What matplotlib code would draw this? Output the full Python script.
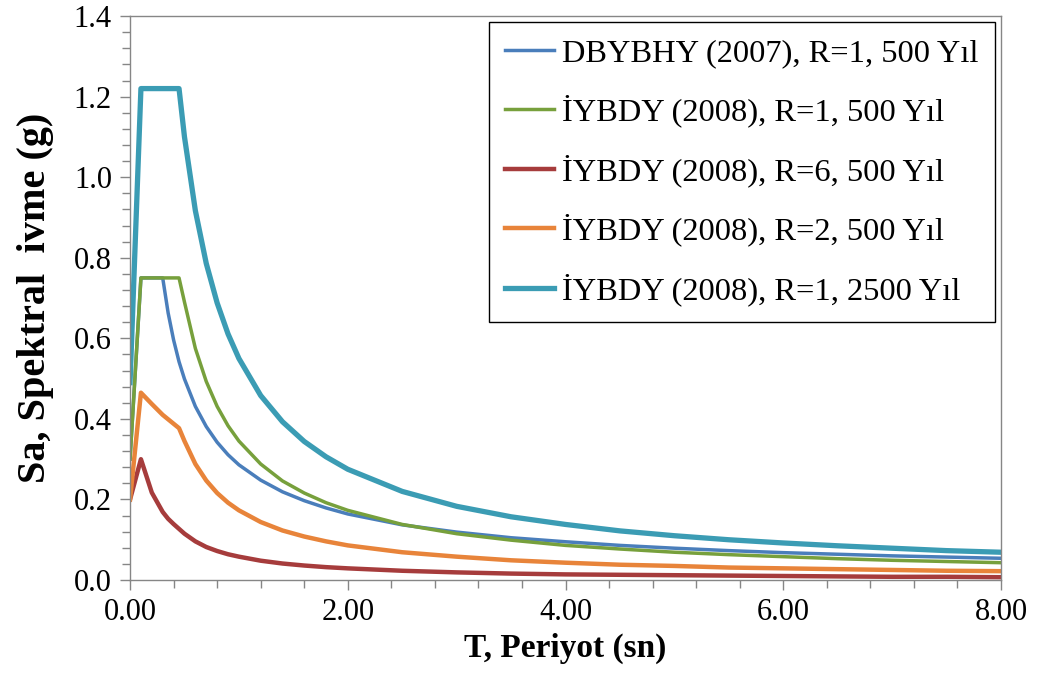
import matplotlib
matplotlib.use("Agg")
import matplotlib.pyplot as plt
from matplotlib.ticker import MultipleLocator, FormatStrFormatter

plt.rcParams['font.family'] = ['Liberation Serif', 'DejaVu Serif']

# periyot (sn)
periods = [0.0, 0.1, 0.2, 0.3, 0.35, 0.4, 0.45, 0.5, 0.6, 0.7, 0.8, 0.9, 1.0,
           1.2, 1.4, 1.6, 1.8, 2.0, 2.5, 3.0, 3.5, 4.0, 4.5, 5.0, 5.5, 6.0,
           6.5, 7.0, 7.5, 8.0]

# spektral ivme (g), okunan degerler
dbybhy_r1_500 = [0.30, 0.75, 0.75, 0.75, 0.663, 0.596, 0.542, 0.499, 0.431, 0.381,
                 0.342, 0.311, 0.286, 0.248, 0.219, 0.197, 0.179, 0.164, 0.137,
                 0.119, 0.105, 0.095, 0.086, 0.079, 0.073, 0.068, 0.064, 0.060,
                 0.057, 0.054]
iybdy_r1_500 = [0.30, 0.75, 0.75, 0.75, 0.75, 0.75, 0.75, 0.69, 0.575, 0.493,
                0.431, 0.383, 0.345, 0.288, 0.246, 0.216, 0.192, 0.173, 0.138,
                0.115, 0.099, 0.086, 0.077, 0.069, 0.063, 0.058, 0.053, 0.049,
                0.046, 0.043]
iybdy_r6_500 = [0.20, 0.30, 0.217, 0.169, 0.152, 0.139, 0.127, 0.115, 0.096, 0.082,
                0.072, 0.064, 0.058, 0.048, 0.041, 0.036, 0.032, 0.029, 0.023,
                0.019, 0.016, 0.014, 0.013, 0.012, 0.011, 0.010, 0.009, 0.008,
                0.008, 0.007]
iybdy_r2_500 = [0.20, 0.465, 0.437, 0.41, 0.399, 0.388, 0.377, 0.345, 0.288, 0.247,
                0.216, 0.192, 0.173, 0.144, 0.123, 0.108, 0.096, 0.086, 0.069,
                0.058, 0.049, 0.043, 0.038, 0.035, 0.031, 0.029, 0.027, 0.025,
                0.023, 0.022]
iybdy_r1_2500 = [0.49, 1.22, 1.22, 1.22, 1.22, 1.22, 1.22, 1.10, 0.917, 0.786,
                 0.688, 0.611, 0.55, 0.458, 0.393, 0.344, 0.306, 0.275, 0.22,
                 0.183, 0.157, 0.138, 0.122, 0.11, 0.10, 0.092, 0.085, 0.079,
                 0.073, 0.069]

labels = ['DBYBHY (2007), R=1, 500 Y\u0131l',
          '\u0130YBDY (2008), R=1, 500 Y\u0131l',
          '\u0130YBDY (2008), R=6, 500 Y\u0131l',
          '\u0130YBDY (2008), R=2, 500 Y\u0131l',
          '\u0130YBDY (2008), R=1, 2500 Y\u0131l']
series = [dbybhy_r1_500, iybdy_r1_500, iybdy_r6_500, iybdy_r2_500, iybdy_r1_2500]
colors = ['#4a7ebb', '#77a03c', '#a63c3c', '#e8843a', '#3b9cb4']
widths = [2.5, 2.5, 3.2, 3.2, 3.8]

fig = plt.figure(figsize=(10.37, 6.84), dpi=100)
ax = fig.add_axes([0.1254, 0.152, 0.8399, 0.8245])

for y, lab, c, w in zip(series, labels, colors, widths):
    ax.plot(periods, y, color=c, linewidth=w, label=lab)

ax.set_xlim(0, 8)
ax.set_ylim(0, 1.4)
ax.xaxis.set_major_locator(MultipleLocator(2))
ax.xaxis.set_minor_locator(MultipleLocator(0.4))
ax.yaxis.set_major_locator(MultipleLocator(0.2))
ax.yaxis.set_minor_locator(MultipleLocator(0.04))
ax.xaxis.set_major_formatter(FormatStrFormatter('%.2f'))
ax.yaxis.set_major_formatter(FormatStrFormatter('%.1f'))

for s in ax.spines.values():
    s.set_color('#868686')
    s.set_linewidth(1.0)
ax.tick_params(which='both', direction='out', color='#868686', width=1.0,
               labelsize=22, top=False, right=False)
ax.tick_params(which='major', length=7, pad=6)
ax.tick_params(which='minor', length=5.5)

ax.set_xlabel('T, Periyot (sn)', fontsize=24, fontweight='bold', labelpad=4)
ax.set_ylabel('Sa, Spektral  ivme (g)', fontsize=29, fontweight='bold', labelpad=14)

leg = ax.legend(loc='upper right', bbox_to_anchor=(0.993, 0.989), borderaxespad=0,
                fontsize=23.4, fancybox=False, framealpha=1, edgecolor='black',
                handlelength=1.5, handletextpad=0.25, labelspacing=0.82,
                borderpad=0.5)
leg.get_frame().set_linewidth(1.0)

fig.savefig('out.png', dpi=100)
